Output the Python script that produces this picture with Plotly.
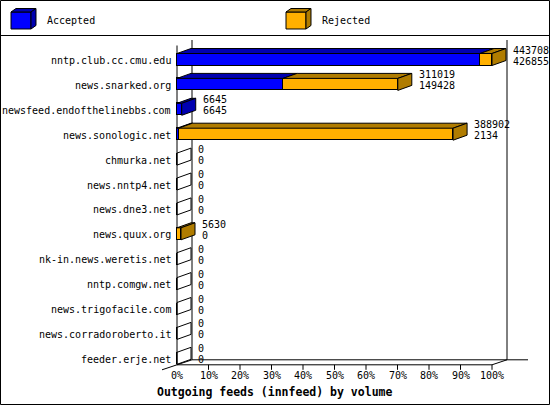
import plotly.graph_objects as go

# ---------------- data ----------------
hosts = ["nntp.club.cc.cmu.edu", "news.snarked.org", "newsfeed.endofthelinebbs.com",
         "news.sonologic.net", "chmurka.net", "news.nntp4.net", "news.dne3.net",
         "news.quux.org", "nk-in.news.weretis.net", "nntp.comgw.net",
         "news.trigofacile.com", "news.corradoroberto.it", "feeder.erje.net"]
offered = [443708, 311019, 6645, 388902, 0, 0, 0, 5630, 0, 0, 0, 0, 0]
accepted = [426855, 149428, 6645, 2134, 0, 0, 0, 0, 0, 0, 0, 0, 0]
series_names = ["Accepted", "Rejected"]
pct_ticks = [0, 10, 20, 30, 40, 50, 60, 70, 80, 90, 100]
tick_labels = ["0%", "10%", "20%", "30%", "40%", "50%", "60%", "70%", "80%", "90%", "100%"]
title = "Outgoing feeds (innfeed) by volume"

# ---------------- geometry / style ----------------
W, H = 550, 405
X0 = 177.0          # pixel of 0%
KX = 3.15           # pixels per percent
ROW0 = 59.5         # pixel centre of first row
PITCH = 24.9        # pixels per row
FACE = 12.0         # bar front face height (px)
BDX, BDY = 14.0, 5.0  # bar depth (px)
WDX, WDY = 15.0, 5.0  # wall depth (px)

BLUE, BLUE_D = "#0000FF", "#0000B0"
ORANGE, ORANGE_D = "#FFB000", "#B07C00"
FONT = "DejaVu Sans Mono"

xr = [-X0 / KX, (W - X0) / KX]
yr = [(H - ROW0) / PITCH, -ROW0 / PITCH]
dxd = BDX / KX
dyd = BDY / PITCH
hw = FACE / 2 / PITCH


def P(px, py):
    return px / W, 1 - py / H


def path(points):
    s = ""
    for k, (px, py) in enumerate(points):
        x, y = P(px, py)
        s += ("M" if k == 0 else " L") + f" {x:.5f} {y:.5f}"
    return s + " Z"


maxv = max(offered)
acc_pct = [a / maxv * 100 for a in accepted]
rej_pct = [(o - a) / maxv * 100 for o, a in zip(offered, accepted)]
tot_pct = [o / maxv * 100 for o in offered]
idx = list(range(len(hosts)))

fig = go.Figure()

# front faces
fig.add_trace(go.Bar(y=idx, x=acc_pct, orientation="h", width=2 * hw, name=series_names[0],
                     marker=dict(color=BLUE, line=dict(color="black", width=1))))
fig.add_trace(go.Bar(y=idx, x=rej_pct, orientation="h", width=2 * hw, name=series_names[1],
                     marker=dict(color=ORANGE, line=dict(color="black", width=1))))


def poly_trace(xs, ys, fill):
    return go.Scatter(x=xs, y=ys, mode="lines", line=dict(color="black", width=1),
                      fill="toself" if fill else "none",
                      fillcolor=fill if fill else None, hoverinfo="skip", showlegend=False)


tb_x, tb_y, to_x, to_y = [], [], [], []
sb_x, sb_y, so_x, so_y = [], [], [], []
e_x, e_y = [], []
for i in idx:
    top, bot = i - hw, i + hw
    a, t = acc_pct[i], tot_pct[i]
    if t <= 0:
        e_x += [0, 0, dxd, dxd, 0, None]
        e_y += [top, bot, bot - dyd, top - dyd, top, None]
        continue
    if a > 0:
        tb_x += [0, a, a + dxd, dxd, 0, None]
        tb_y += [top, top, top - dyd, top - dyd, top, None]
    if t > a:
        to_x += [a, t, t + dxd, a + dxd, a, None]
        to_y += [top, top, top - dyd, top - dyd, top, None]
        sx, sy = so_x, so_y
    else:
        sx, sy = sb_x, sb_y
    sx += [t, t, t + dxd, t + dxd, t, None]
    sy += [top, bot, bot - dyd, top - dyd, top, None]

fig.add_trace(poly_trace(tb_x, tb_y, BLUE_D))
fig.add_trace(poly_trace(to_x, to_y, ORANGE_D))
fig.add_trace(poly_trace(sb_x, sb_y, BLUE_D))
fig.add_trace(poly_trace(so_x, so_y, ORANGE_D))
fig.add_trace(poly_trace(e_x, e_y, None))

shapes = []
ann = []


def pline(x0, y0, x1, y1, layer="below"):
    a0, b0 = P(x0, y0)
    a1, b1 = P(x1, y1)
    shapes.append(dict(type="line", xref="paper", yref="paper", x0=a0, y0=b0, x1=a1, y1=b1,
                       line=dict(color="black", width=1), layer=layer))


# frame
shapes.append(dict(type="rect", xref="paper", yref="paper",
                   x0=0.5 / W, x1=1 - 0.5 / W, y0=0.5 / H, y1=1 - 0.5 / H,
                   line=dict(color="black", width=1), layer="above"))
pline(0, 35.5, W, 35.5)

# walls
floor_f = ROW0 + (len(hosts) - 1) * PITCH + FACE / 2 + 0.5
x100 = X0 + 100 * KX
pline(X0, 45.5, X0, floor_f)
pline(X0 + WDX, 40, X0 + WDX, floor_f - WDY)
pline(x100 + WDX, 40, x100 + WDX, floor_f - WDY)
pline(X0, floor_f, x100, floor_f)
pline(X0 + WDX, floor_f - WDY, x100 + WDX + 21, floor_f - WDY)
pline(X0 - WDX, floor_f + WDY, X0 + WDX, floor_f - WDY)
pline(x100, floor_f, x100 + WDX, floor_f - WDY)
for t in pct_ticks[1:]:
    shapes.append(dict(type="line", xref="x", yref="paper", x0=t, x1=t,
                       y0=1 - floor_f / H, y1=1 - (floor_f + 5) / H,
                       line=dict(color="black", width=1), layer="below"))
for t, lab in zip(pct_ticks, tick_labels):
    ann.append(dict(x=t, y=1 - 375 / H, xref="x", yref="paper", text=lab, showarrow=False,
                    xanchor="center", yanchor="middle", font=dict(family=FONT, size=10, color="black")))

# category labels and values
for i in idx:
    ann.append(dict(x=0, y=i, xref="x", yref="y", text=hosts[i], showarrow=False,
                    xanchor="right", yanchor="middle", xshift=-4, yshift=-1,
                    font=dict(family=FONT, size=10, color="black")))
    ann.append(dict(x=tot_pct[i] + dxd, y=i, xref="x", yref="y", text=str(offered[i]),
                    showarrow=False, xanchor="left", yanchor="middle", xshift=5, yshift=9.5,
                    font=dict(family=FONT, size=10, color="black")))
    ann.append(dict(x=tot_pct[i] + dxd, y=i, xref="x", yref="y", text=str(accepted[i]),
                    showarrow=False, xanchor="left", yanchor="middle", xshift=5, yshift=-1.5,
                    font=dict(family=FONT, size=10, color="black")))

# legend boxes
for (lx, front, dark, name) in [(11, BLUE, BLUE_D, series_names[0]), (286, ORANGE, ORANGE_D, series_names[1])]:
    fx0, fx1, fy0, fy1 = lx, lx + 20, 12, 29
    shapes.append(dict(type="path", xref="paper", yref="paper",
                       path=path([(fx0, fy0), (fx1, fy0), (fx1, fy1), (fx0, fy1)]),
                       fillcolor=front, line=dict(color="black", width=1), layer="above"))
    shapes.append(dict(type="path", xref="paper", yref="paper",
                       path=path([(fx0, fy0), (fx1, fy0), (fx1 + 5, fy0 - 3.5), (fx0 + 5, fy0 - 3.5)]),
                       fillcolor=dark, line=dict(color="black", width=1), layer="above"))
    shapes.append(dict(type="path", xref="paper", yref="paper",
                       path=path([(fx1, fy0), (fx1, fy1), (fx1 + 5, fy1 - 3.5), (fx1 + 5, fy0 - 3.5)]),
                       fillcolor=dark, line=dict(color="black", width=1), layer="above"))
    tx, ty = P(lx + 34, 20)
    ann.append(dict(x=tx, y=ty, xref="paper", yref="paper", text=name, showarrow=False,
                    xanchor="left", yanchor="middle", font=dict(family=FONT, size=10, color="black")))

tx, ty = P(155, 392)
ann.append(dict(x=tx, y=ty, xref="paper", yref="paper", text="<b>" + title + "</b>", showarrow=False,
                xanchor="left", yanchor="middle", font=dict(family=FONT, size=11.5, color="black")))

fig.update_layout(
    width=W, height=H, margin=dict(l=0, r=0, t=0, b=0),
    paper_bgcolor="white", plot_bgcolor="white",
    barmode="stack", bargap=0, showlegend=False,
    xaxis=dict(range=xr, visible=False, fixedrange=True),
    yaxis=dict(range=yr, visible=False, fixedrange=True),
    shapes=shapes, annotations=ann,
)

fig.write_html("out.html", config={"displayModeBar": False},
               post_script="document.body.style.margin='0';document.body.style.overflow='hidden';")
